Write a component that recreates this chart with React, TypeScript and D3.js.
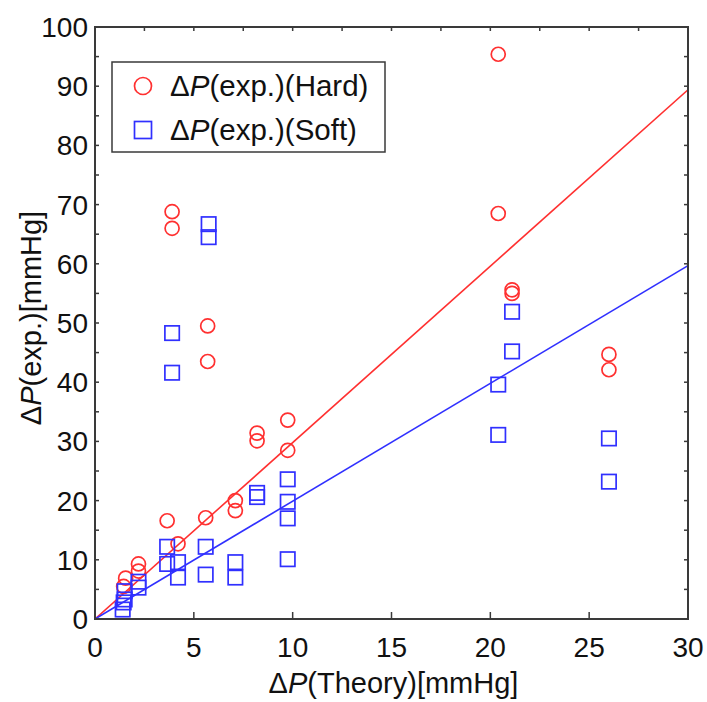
import React from "react";
import * as d3 from "d3";

// Hard (red circles): theory vs experiment
const hardTheory = [20.4, 20.4, 21.1, 21.1, 26.0, 26.0, 3.9, 3.9, 5.7, 5.7, 9.75, 9.75, 8.2, 8.2, 7.1, 7.1, 5.6, 3.65, 4.2, 2.2, 2.2, 1.55, 1.45];
const hardExp = [95.4, 68.5, 55.6, 55.0, 44.7, 42.1, 68.8, 66.0, 49.5, 43.5, 33.6, 28.5, 31.4, 30.1, 20.0, 18.3, 17.1, 16.6, 12.7, 9.3, 8.1, 6.9, 5.5];

// Soft (blue squares)
const softTheory = [20.4, 20.4, 21.1, 21.1, 26.0, 26.0, 3.9, 3.9, 5.75, 5.75, 9.75, 9.75, 9.75, 9.75, 8.2, 8.2, 7.1, 7.1, 5.6, 5.6, 3.65, 3.65, 4.2, 4.2, 2.2, 2.2, 1.5, 1.5, 1.45, 1.4];
const softExp = [39.6, 31.1, 51.9, 45.2, 30.5, 23.2, 48.3, 41.6, 66.7, 64.5, 23.6, 19.8, 17.0, 10.1, 21.3, 20.6, 9.6, 7.0, 12.2, 7.5, 12.2, 9.3, 9.6, 7.0, 6.3, 5.3, 4.7, 3.3, 2.8, 1.6];

// Linear fits through the origin
const hardSlope = 2.98;
const softSlope = 1.99;
const fitRange = [0, 30];

const xTicks = [0, 5, 10, 15, 20, 25, 30];
const yTicks = [0, 10, 20, 30, 40, 50, 60, 70, 80, 90, 100];

const legendLabels = ["(exp.)(Hard)", "(exp.)(Soft)"];
const xTitle = "(Theory)[mmHg]";
const yTitle = "(exp.)[mmHg]";

const W = 707;
const H = 702;
const L = 95, R = 688, T = 27, B = 619;
const RED = "#ff3030";
const BLUE = "#3030ff";
const AXIS = "#3a3a3a";
const FONT = "'Liberation Sans', Arial, sans-serif";

export default function App() {
  const x = d3.scaleLinear().domain([0, 30]).range([L, R]);
  const y = d3.scaleLinear().domain([0, 100]).range([B, T]);

  const fitPath = (slope: number) =>
    d3.line<number>().x((d) => x(d)).y((d) => y(d * slope))(fitRange) as string;

  const minorX = d3.range(0, 30.01, 2.5);
  const minorY = d3.range(0, 100.01, 5);
  const r = 7;
  const s = 14.4;

  return (
    <svg width={W} height={H} style={{ position: "absolute", left: 0, top: 0, background: "#fff" }} fontFamily={FONT}>
      <defs>
        <clipPath id="plotclip">
          <rect x={L} y={T} width={R - L} height={B - T} />
        </clipPath>
      </defs>
      <rect x={0} y={0} width={W} height={H} fill="#fff" />
      <g clipPath="url(#plotclip)">
        <path d={fitPath(hardSlope)} stroke={RED} strokeWidth={1.6} fill="none" />
        <path d={fitPath(softSlope)} stroke={BLUE} strokeWidth={1.6} fill="none" />
      </g>
      <g>
        {hardTheory.map((t, i) => (
          <circle key={"h" + i} cx={x(t)} cy={y(hardExp[i])} r={r} fill="none" stroke={RED} strokeWidth={1.7} />
        ))}
        {softTheory.map((t, i) => (
          <rect key={"s" + i} x={x(t) - s / 2} y={y(softExp[i]) - s / 2} width={s} height={s} fill="none" stroke={BLUE} strokeWidth={1.7} />
        ))}
      </g>
      <g stroke={AXIS} strokeWidth={1.5}>
        {xTicks.map((t) => (
          <line key={"bx" + t} x1={x(t)} x2={x(t)} y1={B} y2={B - 7} />
        ))}
        {minorX.map((t) => (
          <line key={"tx" + t} x1={x(t)} x2={x(t)} y1={T} y2={T + 4} />
        ))}
        {minorY.map((t) => (
          <line key={"ly" + t} x1={L} x2={L + 4} y1={y(t)} y2={y(t)} />
        ))}
        {minorY.map((t) => (
          <line key={"ry" + t} x1={R} x2={R - 4} y1={y(t)} y2={y(t)} />
        ))}
      </g>
      <rect x={L} y={T} width={R - L} height={B - T} fill="none" stroke={AXIS} strokeWidth={2} />
      <g fontSize={28} fill="#111">
        {xTicks.map((t) => (
          <text key={"xl" + t} x={x(t)} y={657} textAnchor="middle">{t}</text>
        ))}
        {yTicks.map((t) => (
          <text key={"yl" + t} x={L - 7} y={y(t)} dy="0.36em" textAnchor="end">{t}</text>
        ))}
      </g>
      <text x={(L + R) / 2 + 2} y={693} textAnchor="middle" fontSize={29} fill="#111">
        Δ<tspan fontStyle="italic">P</tspan>{xTitle}
      </text>
      <text transform={`translate(41, 318) rotate(-90)`} textAnchor="middle" fontSize={29} fill="#111">
        Δ<tspan fontStyle="italic">P</tspan>{yTitle}
      </text>
      <g>
        <rect x={112} y={62} width={273} height={90} fill="#fff" stroke={AXIS} strokeWidth={1.5} />
        <circle cx={143} cy={86} r={8.5} fill="none" stroke={RED} strokeWidth={1.7} />
        <rect x={134.5} y={121.5} width={17} height={17} fill="none" stroke={BLUE} strokeWidth={1.7} />
        {legendLabels.map((lab, i) => (
          <text key={lab} x={170} y={96 + i * 44} fontSize={29.5} fill="#111">
            Δ<tspan fontStyle="italic">P</tspan>{lab}
          </text>
        ))}
      </g>
    </svg>
  );
}
